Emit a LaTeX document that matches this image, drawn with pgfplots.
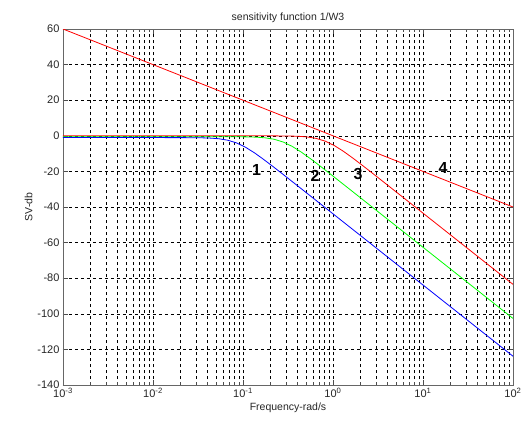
\documentclass[border=0pt]{standalone}
\usepackage{pgfplots}
\pgfplotsset{compat=1.18}
\usepackage{fontspec}
\setmainfont{Liberation Sans}
\begin{document}
\begin{tikzpicture}[x=1pt,y=1pt]
\path[use as bounding box] (-63,-47) rectangle (466,385);
\begin{axis}[
  at={(0,0)}, anchor=south west,
  scale only axis, width=450pt, height=356pt,
  xmode=log, xmin=1e-3, xmax=1e2,
  ymin=-140, ymax=60,
  xtick={1e-3,1e-2,1e-1,1e0,1e1,1e2},
  xticklabels={10\textsuperscript{-3},10\textsuperscript{-2},10\textsuperscript{-1},10\textsuperscript{0},10\textsuperscript{1},10\textsuperscript{2}},
  ytick={-140,-120,-100,-80,-60,-40,-20,0,20,40,60},
  yticklabels={-140,-120,-100,-80,-60,-40,-20,0,20,40,60},
  ticklabel style={font=\fontsize{11}{13}\selectfont, text=black!85},
  tick align=inside,
  major tick length=5pt, minor tick length=3pt,
  tick style={black!70, line width=0.5pt},
  xmajorgrids, xminorgrids, ymajorgrids,
  grid style={black, dash pattern=on 3pt off 3pt, line width=0.5pt},
  minor grid style={black, dash pattern=on 3pt off 3pt, line width=0.5pt},
  axis line style={black!60, line width=0.8pt},
  title={sensitivity function 1/W3},
  title style={font=\fontsize{10.5}{12}\selectfont, text=black!85, yshift=-3pt},
  xlabel={Frequency-rad/s},
  ylabel={SV-db},
  label style={font=\fontsize{10.5}{12}\selectfont, text=black!85},
  xlabel style={yshift=2pt},
  ylabel style={yshift=-2pt},
  clip=true,
]
% line 4: red straight line
\addplot[red, line width=0.8pt] coordinates {(0.001,60) (100,-40)};
% curve 3: red
\addplot[red, line width=0.8pt] coordinates {
(0.001,0) (0.082,0) (0.206,-0.02) (0.3265,-0.11) (0.411,-0.27) (0.5174,-0.64) (0.6513,-1.46)
(0.82,-3.01) (1.0323,-5.46) (1.2996,-8.64) (1.6361,-12.27) (2.0598,-16.11) (2.5931,-20.04)
(3.2645,-24.02) (5.1739,-32.00) (8.2,-40.00) (100,-83.45)};
% curve 2: green
\addplot[green, line width=0.8pt] coordinates {
(0.001,-0.5) (0.028,-0.5) (0.07034,-0.52) (0.1115,-0.61) (0.1403,-0.77) (0.1767,-1.14) (0.2224,-1.96)
(0.28,-3.51) (0.3525,-5.96) (0.4438,-9.14) (0.5587,-12.77) (0.7033,-16.61) (0.8854,-20.54)
(1.1147,-24.52) (1.7667,-32.50) (2.8,-40.50) (100,-102.6)};
% curve 1: blue
\addplot[blue, line width=0.8pt] coordinates {
(0.001,-1.0) (0.0085,-1.0) (0.02135,-1.02) (0.03384,-1.11) (0.0426,-1.27) (0.05364,-1.64) (0.06752,-2.46)
(0.085,-4.01) (0.107,-6.46) (0.1347,-9.64) (0.1696,-13.27) (0.2135,-17.11) (0.2688,-21.04)
(0.3384,-25.02) (0.5363,-33.00) (0.85,-41.00) (100,-123.82)};
\node[font=\fontsize{16}{18}\selectfont\bfseries] at (axis cs:0.1416,-19.1) {1};
\node[font=\fontsize{16}{18}\selectfont\bfseries] at (axis cs:0.631,-22.5) {2};
\node[font=\fontsize{16}{18}\selectfont\bfseries] at (axis cs:1.896,-21.3) {3};
\node[font=\fontsize{16}{18}\selectfont\bfseries] at (axis cs:16.7,-18) {4};
\end{axis}
\end{tikzpicture}
\end{document}
